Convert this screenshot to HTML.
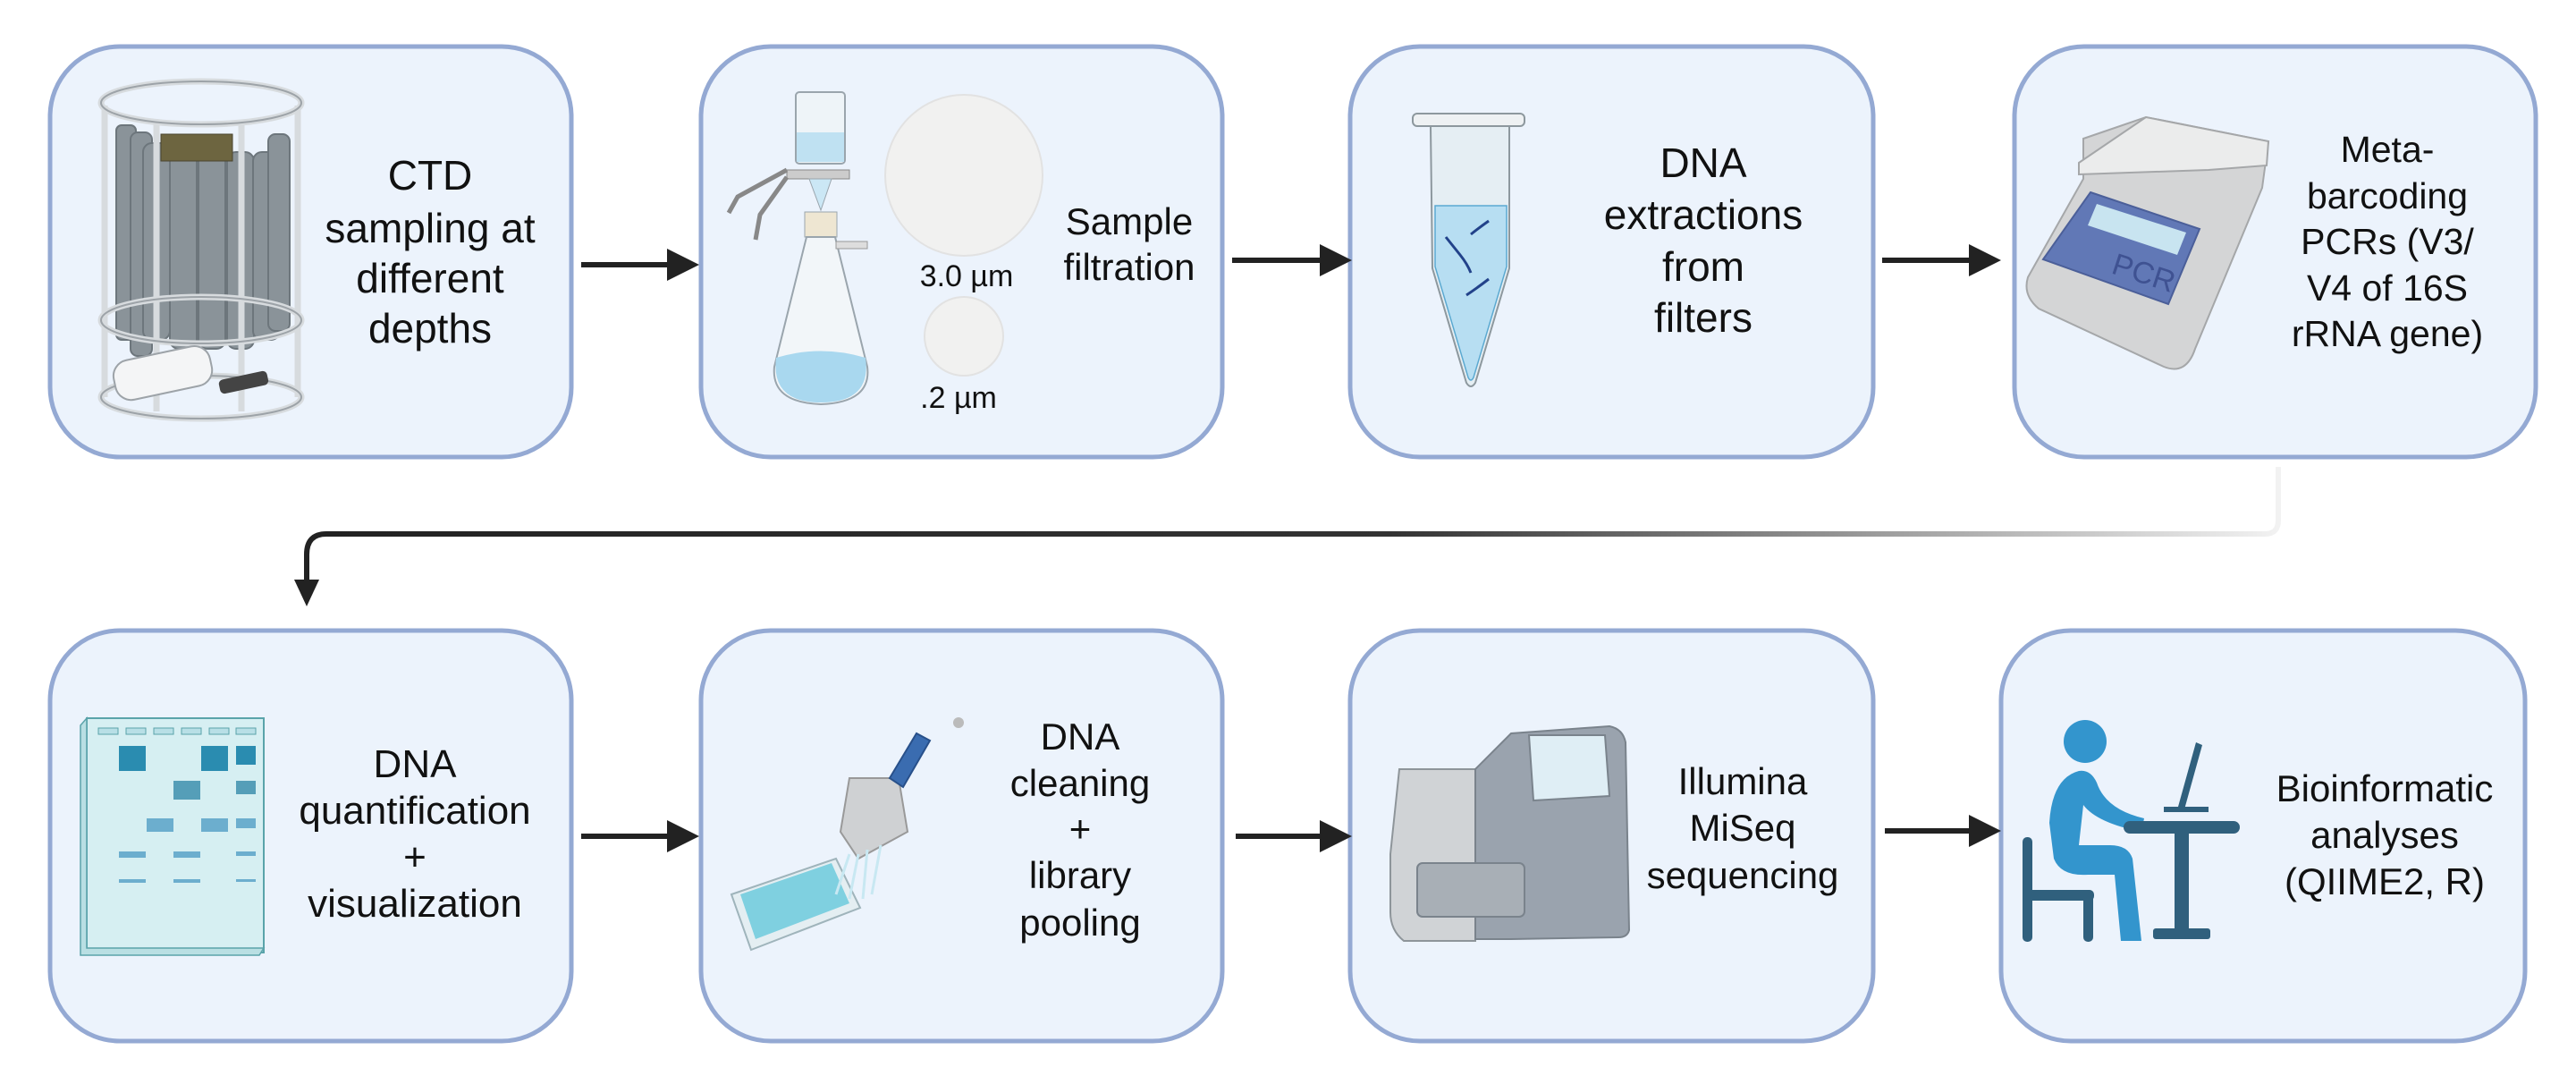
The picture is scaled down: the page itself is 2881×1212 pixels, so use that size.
<!DOCTYPE html>
<html><head><meta charset="utf-8"><style>
html,body{margin:0;padding:0;background:#fff;}
svg{display:block;}
text{font-family:"Liberation Sans",sans-serif;fill:#111;}
</style></head><body>
<svg width="2881" height="1212" viewBox="0 0 2881 1212">
<defs>
<linearGradient id="conn" x1="340" y1="0" x2="2548" y2="0" gradientUnits="userSpaceOnUse">
<stop offset="0" stop-color="#222"/><stop offset="0.55" stop-color="#333"/><stop offset="1" stop-color="#f2f2f2"/></linearGradient>
<marker id="ah" markerWidth="6" markerHeight="6" refX="1" refY="3" orient="auto" markerUnits="strokeWidth"><path d="M0,0 L6,3 L0,6 z" fill="#222"/></marker>
</defs>
<!-- boxes -->
<g fill="#ecf3fc" stroke="#94a9d3" stroke-width="5">
<rect x="56" y="52" width="583" height="459" rx="78"/>
<rect x="784" y="52" width="583" height="459" rx="78"/>
<rect x="1510" y="52" width="585" height="459" rx="78"/>
<rect x="2253" y="52" width="583" height="459" rx="78"/>
<rect x="56" y="705" width="583" height="459" rx="78"/>
<rect x="784" y="705" width="583" height="459" rx="78"/>
<rect x="1510" y="705" width="585" height="459" rx="78"/>
<rect x="2238" y="705" width="586" height="459" rx="78"/>
</g>
<!-- arrows -->
<g stroke="#222" stroke-width="6" fill="none" marker-end="url(#ah)">
<line x1="650" y1="296" x2="752" y2="296"/>
<line x1="1378" y1="291" x2="1482" y2="291"/>
<line x1="2105" y1="291" x2="2208" y2="291"/>
<line x1="650" y1="935" x2="752" y2="935"/>
<line x1="1382" y1="935" x2="1482" y2="935"/>
<line x1="2108" y1="929" x2="2208" y2="929"/>
</g>
<path d="M2548,522 L2548,582 Q2548,597 2533,597 L365,597 Q343,597 343,620 L343,650" stroke="url(#conn)" stroke-width="6" fill="none"/>
<path d="M329,648 L357,648 L343,678 z" fill="#222"/>

<!-- CTD rosette -->
<g>
<g fill="#8a9399" stroke="#6d767c" stroke-width="2">
<rect x="130" y="140" width="22" height="240" rx="6"/><rect x="146" y="148" width="24" height="250" rx="8"/>
<rect x="160" y="160" width="30" height="220" rx="10"/><rect x="190" y="170" width="30" height="220" rx="10"/>
<rect x="222" y="170" width="30" height="220" rx="10"/><rect x="254" y="170" width="30" height="220" rx="10"/>
<rect x="283" y="170" width="30" height="210" rx="10"/><rect x="300" y="150" width="24" height="220" rx="8"/>
</g>
<rect x="180" y="150" width="80" height="30" fill="#6d6540" stroke="#4a4530"/>
<g fill="none" stroke="#d7dbde" stroke-width="7">
<ellipse cx="225" cy="115" rx="112" ry="24"/><ellipse cx="225" cy="358" rx="112" ry="26"/><ellipse cx="225" cy="444" rx="112" ry="24"/>
<line x1="117" y1="118" x2="117" y2="444"/><line x1="333" y1="118" x2="333" y2="444"/><line x1="175" y1="135" x2="175" y2="460"/><line x1="270" y1="135" x2="270" y2="460"/>
</g>
<g fill="none" stroke="#9da3a8" stroke-width="2"><ellipse cx="225" cy="115" rx="112" ry="24"/><ellipse cx="225" cy="358" rx="112" ry="26"/><ellipse cx="225" cy="444" rx="112" ry="24"/></g>
<rect x="127" y="395" width="110" height="45" rx="18" fill="#f4f5f6" stroke="#9da3a8" stroke-width="2" transform="rotate(-12 180 417)"/>
<rect x="245" y="420" width="55" height="16" rx="5" fill="#444" transform="rotate(-12 270 428)"/>
</g>

<!-- filtration -->
<g>
<rect x="890" y="103" width="55" height="80" rx="4" fill="#eef4f8" stroke="#9aa5ad" stroke-width="2"/>
<rect x="891" y="148" width="53" height="33" fill="#bfe1f2"/>
<path d="M880,190 L950,190 L950,200 L880,200 z" fill="#ccc" stroke="#888"/>
<path d="M880,190 L825,220 L815,238 M880,198 L850,240 L845,268" stroke="#888" stroke-width="5" fill="none"/>
<path d="M905,200 L930,200 L918,235 z" fill="#cbe7f5" stroke="#9aa5ad"/>
<rect x="900" y="237" width="36" height="28" fill="#eee6d2" stroke="#9aa5ad"/>
<path d="M902,265 L934,265 L970,410 Q975,450 918,452 Q862,450 866,410 z" fill="#f2f6f9" stroke="#9aa5ad" stroke-width="2"/>
<path d="M868,400 Q918,385 968,400 Q975,450 918,450 Q862,450 868,400 z" fill="#a9d8ef"/>
<rect x="935" y="270" width="35" height="8" fill="#ddd" stroke="#999"/>
</g>
<ellipse cx="1078" cy="196" rx="88" ry="90" fill="#f1f1f0" stroke="#e2e2e2" stroke-width="2"/>
<ellipse cx="1078" cy="376" rx="44" ry="44" fill="#f1f1f0" stroke="#e2e2e2" stroke-width="2"/>

<!-- tube -->
<g>
<rect x="1580" y="127" width="125" height="14" rx="5" fill="#eef1f3" stroke="#8d989e" stroke-width="2"/>
<path d="M1600,141 L1688,141 L1688,300 L1650,428 Q1645,436 1640,428 L1602,300 z" fill="#e5eef3" stroke="#8d989e" stroke-width="2"/>
<path d="M1605,230 L1685,230 L1685,298 L1648,422 Q1645,428 1642,422 L1605,298 z" fill="#b7def2" stroke="#5ba9d1" stroke-width="1.5"/>
<g stroke="#22428a" stroke-width="3" fill="none"><path d="M1617,265 q8,10 16,20 q8,10 12,20"/><path d="M1645,262 q10,-8 20,-15"/><path d="M1640,330 q12,-8 25,-18"/></g>
</g>

<!-- PCR -->
<g>
<path d="M2330,155 L2400,131 L2537,158 L2530,210 L2455,390 Q2445,420 2420,410 L2280,345 Q2262,330 2268,310 L2330,200 z" fill="#d4d5d6" stroke="#a5a7a9" stroke-width="2"/>
<path d="M2325,182 L2400,131 L2537,158 L2535,185 L2470,190 L2325,195 z" fill="#ebecec" stroke="#a5a7a9" stroke-width="2"/>
<path d="M2338,215 L2460,256 L2425,340 L2285,290 z" fill="#6178b6" stroke="#4b5f99" stroke-width="2"/>
<path d="M2345,228 L2445,260 L2435,285 L2335,252 z" fill="#c8e4f0"/>
<text x="2360" y="305" font-size="34" fill="#3f5292" style="fill:#3f5292" transform="rotate(18 2360 305)">PCR</text>
</g>

<!-- gel -->
<g>
<rect x="97" y="803" width="198" height="262" fill="#d6eff2" stroke="#5aa3aa" stroke-width="2"/>
<path d="M97,803 L90,811 L90,1068 L290,1068 L295,1060 L97,1060 z" fill="#b9dfe3" stroke="#5aa3aa" stroke-width="1.5"/>
<g fill="#b8dfe6" stroke="#5aa3aa" stroke-width="1"><rect x="110" y="814" width="22" height="7"/><rect x="141" y="814" width="22" height="7"/><rect x="172" y="814" width="22" height="7"/><rect x="203" y="814" width="22" height="7"/><rect x="234" y="814" width="22" height="7"/><rect x="264" y="814" width="22" height="7"/></g>
<g fill="#2a8cb0"><rect x="133" y="834" width="30" height="28"/><rect x="225" y="834" width="30" height="28"/><rect x="264" y="834" width="22" height="21"/></g>
<g fill="#559eb8"><rect x="194" y="873" width="30" height="21"/><rect x="264" y="873" width="22" height="15"/></g>
<g fill="#6caece"><rect x="164" y="915" width="30" height="15"/><rect x="225" y="915" width="30" height="15"/><rect x="264" y="915" width="22" height="11"/>
<rect x="133" y="952" width="30" height="7"/><rect x="194" y="952" width="30" height="7"/><rect x="264" y="952" width="22" height="5"/>
<rect x="133" y="983" width="30" height="4"/><rect x="194" y="983" width="30" height="4"/><rect x="264" y="983" width="22" height="3"/></g>
</g>

<!-- pipette + plate -->
<g>
<path d="M818,1000 L935,960 L962,1015 L840,1062 z" fill="#e4eef2" stroke="#9fb4bb" stroke-width="2"/>
<path d="M828,1000 L930,965 L950,1010 L845,1050 z" fill="#7fd0e0"/>
<path d="M950,870 L1005,870 L1015,930 L960,960 L940,930 z" fill="#cfd1d3" stroke="#999" stroke-width="2"/>
<g stroke="#c8e8f2" stroke-width="3"><line x1="950" y1="955" x2="935" y2="1000"/><line x1="960" y1="955" x2="950" y2="1005"/><line x1="970" y1="950" x2="965" y2="1005"/><line x1="985" y1="945" x2="975" y2="1000"/></g>
<path d="M995,870 L1025,820 L1040,828 L1010,880 z" fill="#3a6cb0" stroke="#28508a" stroke-width="2"/>
<circle cx="1072" cy="808" r="6" fill="#bbb"/>
</g>

<!-- MiSeq -->
<g>
<path d="M1555,955 L1565,860 L1650,860 L1650,1052 L1570,1052 Q1555,1040 1555,1020 z" fill="#d0d3d6" stroke="#8e959a" stroke-width="2"/>
<path d="M1650,860 L1690,820 L1800,812 Q1815,815 1818,830 L1822,1040 Q1820,1048 1810,1048 L1690,1050 L1650,1050 z" fill="#9aa3ae" stroke="#7a838c" stroke-width="2"/>
<path d="M1710,822 L1795,822 L1800,890 L1715,895 z" fill="#dfeef5" stroke="#7a838c" stroke-width="2"/>
<rect x="1585" y="965" width="120" height="60" rx="6" fill="#a8afb6" stroke="#7a838c" stroke-width="2"/>
</g>

<!-- person -->
<g>
<circle cx="2332" cy="829" r="24" fill="#3395cd"/>
<path d="M2325,862 Q2295,870 2292,920 L2297,960 Q2305,980 2335,978 L2365,978 L2372,1052 L2395,1052 L2385,960 Q2380,945 2360,945 L2325,945 L2330,900 Q2345,920 2395,930 L2398,915 Q2355,905 2345,875 Q2338,860 2325,862 z" fill="#3395cd"/>
<g fill="#30607d"><rect x="2262" y="936" width="11" height="117" rx="5"/><rect x="2262" y="995" width="80" height="12" rx="5"/><rect x="2330" y="995" width="11" height="58" rx="5"/>
<rect x="2375" y="918" width="130" height="14" rx="7"/><rect x="2432" y="925" width="16" height="115"/><rect x="2408" y="1038" width="64" height="12" rx="3"/>
<path d="M2456,830 L2463,833 L2443,905 L2436,902 z"/><rect x="2420" y="902" width="50" height="6"/></g>
</g>

<!-- text -->
<g text-anchor="middle" font-size="46">
<text x="481"><tspan x="481" y="212">CTD</tspan><tspan x="481" y="271">sampling at</tspan><tspan x="481" y="327">different</tspan><tspan x="481" y="383">depths</tspan></text>
<text font-size="42"><tspan x="1263" y="262">Sample</tspan><tspan x="1263" y="313">filtration</tspan></text>
<text font-size="34" x="1081" y="320">3.0 µm</text>
<text font-size="34" x="1072" y="456">.2 µm</text>
<text><tspan x="1905" y="198">DNA</tspan><tspan x="1905" y="256">extractions</tspan><tspan x="1905" y="314">from</tspan><tspan x="1905" y="371">filters</tspan></text>
<text font-size="41"><tspan x="2670" y="181">Meta-</tspan><tspan x="2670" y="233">barcoding</tspan><tspan x="2670" y="284">PCRs (V3/</tspan><tspan x="2670" y="336">V4 of 16S</tspan><tspan x="2670" y="387">rRNA gene)</tspan></text>
<text font-size="44"><tspan x="464" y="869">DNA</tspan><tspan x="464" y="921">quantification</tspan><tspan x="464" y="973">+</tspan><tspan x="464" y="1025">visualization</tspan></text>
<text font-size="42"><tspan x="1208" y="838">DNA</tspan><tspan x="1208" y="890">cleaning</tspan><tspan x="1208" y="941">+</tspan><tspan x="1208" y="993">library</tspan><tspan x="1208" y="1046">pooling</tspan></text>
<text font-size="42"><tspan x="1949" y="888">Illumina</tspan><tspan x="1949" y="940">MiSeq</tspan><tspan x="1949" y="993">sequencing</tspan></text>
<text font-size="42"><tspan x="2667" y="896">Bioinformatic</tspan><tspan x="2667" y="948">analyses</tspan><tspan x="2667" y="1000">(QIIME2, R)</tspan></text>
</g>
</svg>
</body></html>
